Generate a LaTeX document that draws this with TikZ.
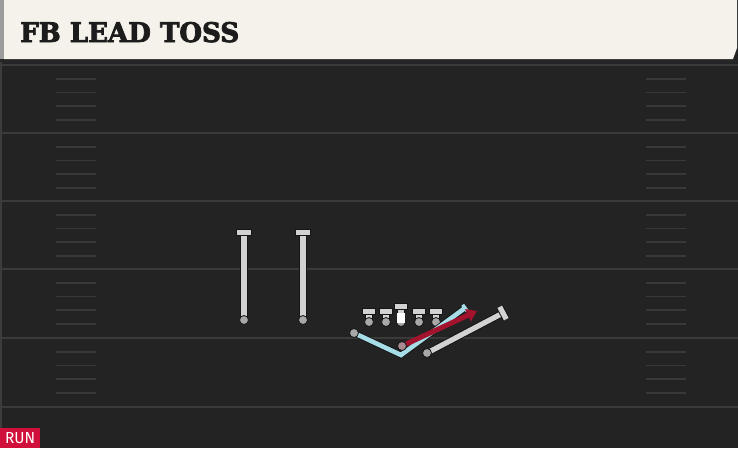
\documentclass[tikz,border=0pt]{standalone}
\usepackage{fontspec}
\newfontfamily\titlefont[BoldFont={DejaVu Serif Bold},BoldFeatures={FakeBold=3}]{DejaVu Serif}
\newfontfamily\runfont{Fira Sans}
\usetikzlibrary{arrows.meta,calc}
\definecolor{bg}{HTML}{232323}
\definecolor{yardc}{HTML}{3A3A3A}
\definecolor{hashc}{HTML}{383838}
\definecolor{cream}{HTML}{F5F2EB}
\definecolor{titlegrey}{HTML}{9C9C9C}
\definecolor{titletext}{HTML}{1C1C1C}
\definecolor{stripc}{HTML}{3C3C3C}
\definecolor{plgrey}{HTML}{D2D2D2}
\definecolor{dotgrey}{HTML}{A8A8A8}
\definecolor{outl}{HTML}{151515}
\definecolor{cyanroute}{HTML}{A6DDE6}
\definecolor{redroute}{HTML}{A3132E}
\definecolor{runred}{HTML}{D0103A}
\begin{document}
\begin{tikzpicture}[x=1pt,y=-1pt,
  yard/.style={draw=yardc,line width=2pt},
  hashm/.style={draw=hashc,line width=1.6pt},
  pline/.style={draw=plgrey,line width=5.2pt,preaction={draw=outl,line width=7.2pt}},
  cline/.style={draw=cyanroute,line width=4.6pt,preaction={draw=outl,line width=6.2pt}},
  dot/.style={circle,fill=dotgrey,draw=outl,line width=0.8pt,minimum size=9pt,inner sep=0pt},
  tbar/.style={rectangle,fill=plgrey,draw=outl,line width=0.8pt,minimum width=#1,minimum height=6pt,inner sep=0pt},
  tbar/.default=13pt]
\useasboundingbox (0,0) rectangle (738,448);
\fill[bg] (0,0) rectangle (738,448);
\fill[stripc] (0,59) rectangle (2,448);
\fill[black!85] (0,59) rectangle (738,62);
% title bar
\fill[cream] (4,0) -- (737,0) -- (737,48) -- (733,59) -- (4,59) -- cycle;
\fill[titlegrey] (0,0) rectangle (4,59);
\node[anchor=base west,inner sep=0pt,text=titletext] (title) at (20,42)
  {\resizebox{219pt}{20pt}{\titlefont\bfseries FB LEAD TOSS}};
% yard lines and hash marks
\foreach \y in {65,133,201,269,338,407} \draw[yard] (2,\y) -- (738,\y);
\foreach \y in {65,133,201,269,338} \foreach \d in {14,27.5,41,55} {
  \draw[hashm] (56,\y+\d) -- (96,\y+\d);
  \draw[hashm] (646,\y+\d) -- (686,\y+\d);
}
% receivers
\coordinate (wr1) at (244,320); \coordinate (wr1t) at (244,232);
\coordinate (wr2) at (303,320); \coordinate (wr2t) at (303,232);
\draw[pline] (wr1) -- (wr1t);
\draw[pline] (wr2) -- (wr2t);
\node[tbar=15pt] (wr1bar) at (wr1t) {};
\node[tbar=15pt] (wr2bar) at (wr2t) {};
\node[dot] (wr1dot) at (wr1) {};
\node[dot] (wr2dot) at (wr2) {};
% linemen
\foreach \x/\n in {369/lt,386/lg,419/rg,436/rt} {
  \coordinate (\n) at (\x,322); \coordinate (\n t) at (\x,311);
  \draw[pline] (\n) -- (\n t);
  \node[tbar] (\n bar) at (\n t) {};
  \node[dot] (\n dot) at (\n) {};
}
\coordinate (c) at (401,322); \coordinate (ct) at (401,306);
\draw[pline] (c) -- (ct);
\node[tbar] (cbar) at (ct) {};
\node[dot] (cdot) at (c) {};
\node[rectangle,fill=white,minimum width=8pt,minimum height=10pt,inner sep=0pt] (csq) at (401,318) {};
% routes
\coordinate (qb) at (354,333); \coordinate (qbv) at (401,355); \coordinate (qbe) at (465,308);
\draw[cline,line join=miter] (qb) -- (qbv) -- (qbe);
\draw[draw=cyanroute,line width=3.4pt] ($(qbe)!4pt!90:(qbv)$) -- ($(qbe)!4pt!-90:(qbv)$);
\node[dot] (qbdot) at (qb) {};
\coordinate (fb) at (402,346); \coordinate (fbe) at (477,311);
\draw[draw=redroute,line width=5pt,-{Triangle[length=10pt,width=13pt]}] (fb) -- (fbe);
\node[dot,fill=dotgrey!80!redroute] (fbdot) at (fb) {};
\coordinate (tb) at (427,353); \coordinate (tbe) at (503,313);
\draw[pline] (tb) -- (tbe);
\draw[pline] ($(tbe)!7pt!90:(tb)$) -- ($(tbe)!7pt!-90:(tb)$);
\node[dot] (tbdot) at (tb) {};
% run tag
\node[anchor=south west,fill=runred,minimum width=40pt,minimum height=20pt,inner sep=0pt,text=white] (run) at (0,448)
  {\resizebox{30pt}{11pt}{\runfont RUN}};
\end{tikzpicture}
\end{document}
